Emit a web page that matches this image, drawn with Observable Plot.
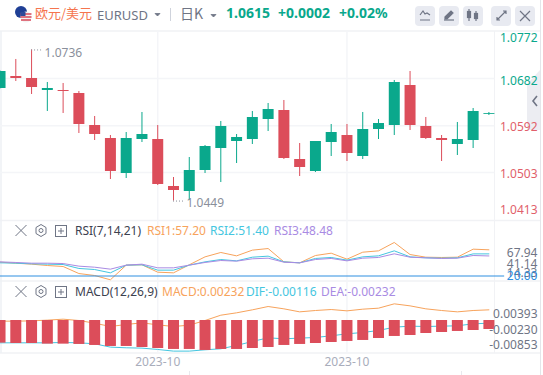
<!DOCTYPE html>
<html><head><meta charset="utf-8">
<script src="https://cdn.jsdelivr.net/npm/d3@7"></script>
<script src="https://cdn.jsdelivr.net/npm/@observablehq/plot@0.6"></script>
<style>
html,body{margin:0;padding:0;background:#fff;overflow:hidden}
body{width:543px;height:375px;position:relative;font-family:"Noto Sans","Noto Sans CJK SC",sans-serif}
#charts{position:absolute;left:0;top:0;width:543px}
#charts svg{display:block}
.t{position:absolute;white-space:nowrap;line-height:16px;font-size:12px}
.btn{position:absolute;top:6px;width:20px;height:20px;background:#e8eaf1;border-radius:4px}
.ui{position:absolute;left:0;top:0;pointer-events:none}
</style></head><body>
<svg class="ui" width="543" height="375" id="back"></svg>
<div id="charts"></div>
<div id="labels"></div>
<svg class="ui" width="543" height="375" id="front"></svg>
<script>
const open_ = [1.06628,1.06856,1.06818,1.0659,1.0659,1.06533,1.05925,1.05678,1.05013,1.05659,1.05659,1.04766,1.04671,1.0507,1.05488,1.05621,1.05659,1.06039,1.0621,1.05279,1.05051,1.05602,1.05735,1.05336,1.05849,1.05925,1.06685,1.05906,1.05678,1.05564,1.0564,1.06134];
const close_ = [1.06951,1.06818,1.06647,1.06628,1.06571,1.05944,1.05754,1.05051,1.05678,1.05754,1.04804,1.0469,1.0507,1.05526,1.05906,1.05697,1.06077,1.06229,1.05298,1.05127,1.05621,1.05792,1.05393,1.05849,1.05963,1.06742,1.05925,1.05678,1.0564,1.05659,1.06191,1.0615];
const high_ = [1.0696,1.07179,1.0736,1.06742,1.06723,1.06571,1.06096,1.05735,1.05792,1.06172,1.05925,1.04937,1.05317,1.05545,1.06001,1.05754,1.06191,1.06343,1.064,1.05583,1.05621,1.05944,1.05944,1.06172,1.06039,1.0678,1.06951,1.06077,1.05735,1.05982,1.06248,1.06172];
const low_ = [1.0662,1.06761,1.06514,1.06191,1.06153,1.05773,1.0564,1.04899,1.04918,1.05602,1.04785,1.0449,1.045,1.05013,1.04842,1.05203,1.05564,1.05811,1.05279,1.04956,1.05032,1.05336,1.05241,1.05279,1.05659,1.05735,1.0583,1.05659,1.05241,1.05355,1.05488,1.06115];
const rsi1 = [39.65,38.2,36.8,34.9,33.5,23.5,20.7,14.6,35.4,35.9,25.4,24.5,35.9,47.2,53.4,48.6,56.7,59.0,40.1,38.7,49.1,52.4,43.9,53.8,55.7,67.6,50.5,46.7,46.3,46.7,58.1,57.2];
const rsi2 = [38.7,38.2,37.3,36.8,36.3,30.7,29.2,24.5,35.4,35.9,28.3,28.3,35.4,40.1,43.4,41.5,46.7,48.2,40.1,38.7,44.9,46.3,42.5,47.2,48.6,55.7,47.2,45.8,45.3,45.8,51.4,51.4];
const rsi3 = [40.1,39.2,38.2,38.2,37.7,34.0,32.5,29.7,35.4,36.8,31.6,31.6,35.4,39.2,42.0,41.1,44.4,45.3,39.6,38.7,43.4,44.9,41.5,45.3,46.3,51.5,46.7,45.8,44.9,45.3,49.1,48.48];
const macdBars = [-0.00584,-0.00593,-0.00593,-0.0061,-0.0061,-0.00618,-0.00644,-0.0067,-0.0067,-0.00696,-0.00722,-0.00747,-0.00747,-0.00773,-0.00747,-0.00747,-0.00722,-0.00696,-0.00644,-0.00618,-0.00593,-0.00567,-0.00541,-0.00515,-0.00464,-0.00412,-0.00387,-0.00335,-0.00309,-0.00283,-0.00258,-0.00232];
const macdLine = [-0.00017,-0.00017,-0.00009,0.00009,0.00034,0,-0.00069,-0.00155,-0.00103,-0.0006,-0.00112,-0.00155,-0.0012,0,0.00137,0.00198,0.00275,0.00361,0.00301,0.00223,0.00258,0.00283,0.00249,0.00292,0.00318,0.0043,0.00378,0.00301,0.00258,0.00223,0.00258,0.00275];
const difLine = [-0.00576,-0.00576,-0.00576,-0.00576,-0.00567,-0.00576,-0.00601,-0.00687,-0.00704,-0.00713,-0.00747,-0.0079,-0.0079,-0.00756,-0.0073,-0.00644,-0.00541,-0.00447,-0.00472,-0.00455,-0.00438,-0.00395,-0.00344,-0.00309,-0.00258,-0.00172,-0.00146,-0.00155,-0.00146,-0.00137,-0.00086,-0.00069];
const priceTicks = ["1.0772","1.0682","1.0592","1.0503","1.0413"];
const xTickIdx = [10,22];
const xTickText = ["2023-10","2023-10"];
const lastRsi = {RSI1:"57.20",RSI2:"51.40",RSI3:"48.48"};

const RED="#dc4d5a", GREEN="#0aa88c", GRID="#f4f5f8", ORANGE="#f7a35c", CYAN="#45c6e0", PURPLE="#a98be3", GREY="#6f7585";
const FONT={fontFamily:'"Noto Sans",sans-serif',fontSize:"12px",background:"transparent",overflow:"visible"};
const idx = d3.range(open_.length);
const xOpt = {domain:[0,31],range:[-0.47,488.4],axis:null};
const gridEnd = 31.36;
const cfg = (height,mt,mb,y)=>({width:543,height,marginTop:mt,marginBottom:mb,marginLeft:0,marginRight:0,x:xOpt,y:{...y,axis:null},style:FONT});
const vgrid = Plot.ruleX(xTickIdx,{stroke:GRID,strokeWidth:1.5});
const hgrid = (vals)=>Plot.ruleY(vals,{x1:-1,x2:gridEnd,stroke:GRID,strokeWidth:1.5});
const sideLabel=(text,y,dy,fill)=>Plot.text([text],{y:()=>y,text:d=>d,frameAnchor:"right",dx:-6,dy,textAnchor:"end",lineAnchor:"middle",fill,fontSize:12});
const up=i=>close_[i]>=open_[i];
const tone=i=>up(i)?GREEN:RED;
const pv=priceTicks.map(Number);

const A = Plot.plot({...cfg(220,31,0,{domain:[1.0772,1.0413],range:[30.5,219.5]}),marks:[
  hgrid(pv.slice(1,4)),vgrid,
  Plot.ruleX(idx,{x:i=>i,y1:i=>low_[i],y2:i=>high_[i],stroke:tone,strokeWidth:1}),
  Plot.ruleX(idx,{x:i=>i,y1:i=>open_[i],y2:i=>close_[i],stroke:tone,strokeWidth:11}),
  Plot.ruleY([1.0736],{x1:2,x2:2.7,stroke:"#8a8f9b",strokeDasharray:"1,2"}),
  Plot.ruleY([1.0449],{x1:11,x2:11.7,stroke:"#8a8f9b",strokeDasharray:"1,2"}),
  Plot.text(["1.0736"],{x:()=>2,y:()=>1.0736,text:d=>d,dx:13,dy:3,textAnchor:"start",fill:"#8a8f9b",fontSize:12}),
  Plot.text(["1.0449"],{x:()=>11,y:()=>1.0449,text:d=>d,dx:13,dy:2.5,textAnchor:"start",fill:"#8a8f9b",fontSize:12}),
  sideLabel(priceTicks[0],pv[0],7.5,GREEN),
  sideLabel(priceTicks[1],pv[1],2.3,GREEN),
  sideLabel(priceTicks[2],pv[2],1,"#e15f6b"),
  sideLabel(priceTicks[3],pv[3],2,"#e15f6b"),
  sideLabel(priceTicks[4],pv[4],-9.5,"#e15f6b")
]});

const line=(arr,color)=>Plot.line(idx,{x:i=>i,y:i=>arr[i],stroke:color,strokeWidth:1,curve:"linear"});
const B = Plot.plot({...cfg(60,0,0,{domain:[76.8,20],range:[15.5,55.5]}),marks:[
  vgrid,
  line(rsi1,ORANGE),line(rsi2,CYAN),line(rsi3,PURPLE),
  Plot.ruleY([20],{x1:-1,x2:32,stroke:"#2f8fe0",strokeWidth:1}),
  sideLabel("67.94",67.94,11.3,GREY),
  sideLabel("41.14",41.14,3.1,GREY),
  sideLabel("14.33",14.33,-6.5,GREY),
  sideLabel("20.00",20,.5,"#2f8fe0")
]});

const C = Plot.plot({...cfg(95,0,22,{domain:[0.00516,-0.01],range:[20,78.76]}),marks:[
  vgrid,
  line(macdLine,ORANGE),line(difLine,CYAN),
  Plot.ruleX(idx,{x:i=>i,y1:()=>0,y2:i=>macdBars[i],stroke:RED,strokeWidth:11}),
  sideLabel("0.00393",0.00393,9.2,GREY),
  sideLabel("-0.00230",-0.0023,.4,GREY),
  sideLabel("-0.00853",-0.00853,-8.4,GREY),
  Plot.text(xTickIdx,{x:d=>d,text:(d,i)=>xTickText[i],frameAnchor:"bottom",dy:9,fill:"#a9adbb",fontSize:12,lineAnchor:"middle"})
]});
const host=document.getElementById("charts");
host.append(A,B,C);

const L=document.getElementById("labels");
const put=(x,cy,text,color,size=12,weight=400,fam)=>{const e=document.createElement("div");e.className="t";e.textContent=text;e.style.cssText+=`left:${x}px;top:${cy-8}px;color:${color};font-size:${size}px;font-weight:${weight};`+(fam?`font-family:${fam};`:"");L.append(e);};
[415,439,463,491,515].forEach(x=>{const b=document.createElement("div");b.className="btn";b.style.left=x+"px";L.append(b);});
put(35,13,"欧元/美元","#f5754e",13,400,'"Noto Sans CJK SC"');
put(97,15,"EURUSD",GREY,13);
put(180,13,"日K",GREY,14,400,'"Noto Sans CJK SC"');
put(226,13,"1.0615",GREEN,14,700);
put(278,13,"+0.0002",GREEN,14,700);
put(339,13,"+0.02%",GREEN,14,700);
put(75,231,"RSI(7,14,21)","#3c4150");
put(147,231,"RSI1:"+lastRsi.RSI1,ORANGE);
put(210,231,"RSI2:"+lastRsi.RSI2,CYAN);
put(274,231,"RSI3:"+lastRsi.RSI3,PURPLE);
put(75,292,"MACD(12,26,9)","#3c4150");
put(162,292,"MACD:0.00232",ORANGE);
put(246,292,"DIF:-0.00116",CYAN);
put(321,292,"DEA:-0.00232",PURPLE);

document.getElementById("back").innerHTML=`
<path d="M0 31H540M0 220.5H540M0 281H540M0 353H540" stroke="#f1f2f5" stroke-width="1.5"/>
<path d="M1 31V353" stroke="#eef0f4" stroke-width="1.5"/>
<path d="M494.5 31V353" stroke="#f1f2f5" stroke-width="1"/>
<path d="M540.5 0V375" stroke="#e4e5ea" stroke-width="1"/>
<path d="M189.5 371V375M461.5 371V375" stroke="#e8e9ee"/>
<path d="M527 84L540 70V130H527Z" fill="#ecedf2"/>`;
const panelIcons=(y)=>`<g fill="none" stroke="#6f7585" stroke-width="1">
<path d="M15.5 ${y}l11 11M26.5 ${y}l-11 11"/>
<path d="M41 ${y-0.5}l5 3v6l-5 3l-5-3v-6z"/><circle cx="41" cy="${y+5.5}" r="2"/>
<rect x="55.5" y="${y+.5}" width="11" height="11"/><path d="M58 ${y+6}h6M61 ${y+3}v6"/></g>`;
document.getElementById("front").innerHTML=`
<path d="M537 96l-4 5l4 5" fill="none" stroke="#6f7585" stroke-width="1.6"/>
<circle cx="21" cy="12" r="6" fill="#1f3f95"/>
<circle cx="26" cy="17" r="5.5" fill="#f3f3f3"/>
<path d="M20.5 14h11M20.5 17h11M21 20h10" stroke="#d9485a" stroke-width="1.4"/>
<path d="M20.5 12h5v4h-5z" fill="#2d4a9a"/>
<path d="M155 13.5h5l-2.5 2.5zM211 14.5h5l-2.5 2.5z" fill="#6f7585" stroke="#6f7585" stroke-width=".8"/>
<path d="M170.5 8V21" stroke="#cfd3dc"/>
<g fill="none" stroke="#6f7585" stroke-width="1.2">
<path d="M420 15l3-4l2 3l2-1l3 2M420 20h10"/>
<path d="M444 20h10" /><path d="M445 17l6-6l2 2l-6 6h-2z" fill="#6f7585"/>
<path d="M469 9v12M476 11v10"/><rect x="467.5" y="11.5" width="3" height="6" fill="#6f7585"/><rect x="474.5" y="13.5" width="3" height="5" fill="#6f7585"/>
<path d="M497 20l9-9M497 17v3h3M503 11h3v3"/>
<path d="M520 11l10 10M530 11l-10 10"/></g>
${panelIcons(225)}${panelIcons(286)}`;
</script>
</body></html>
